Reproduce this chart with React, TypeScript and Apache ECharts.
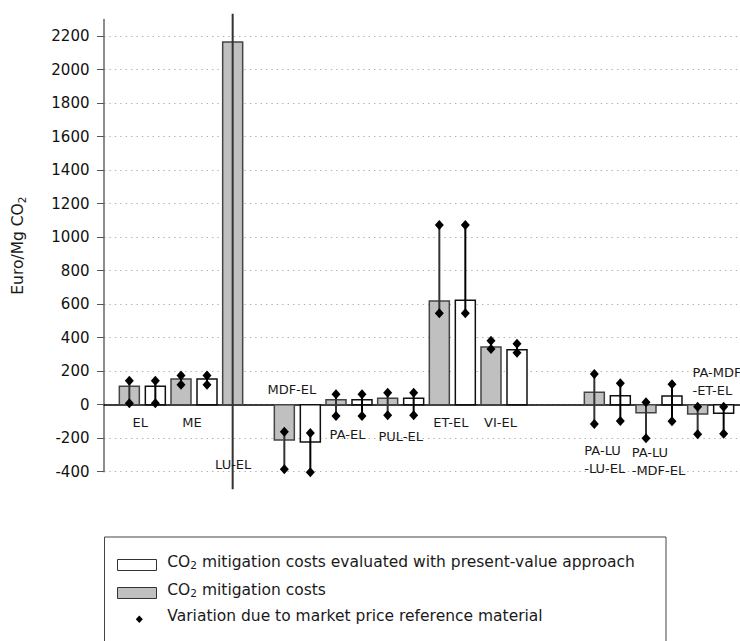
import React, { useEffect, useRef } from "react";
import * as echarts from "echarts";

// ---------- data ----------
const categories = [
  "EL",
  "ME",
  "LU-EL",
  "MDF-EL",
  "PA-EL",
  "PUL-EL",
  "ET-EL",
  "VI-EL",
  "",
  "PA-LU\n-LU-EL",
  "PA-LU\n-MDF-EL",
  "PA-MDF\n-ET-EL",
];
// CO2 mitigation costs (grey bars)
const mitigationCost = [110, 153, 2165, -211, 30, 38, 619, 344, null, 74, -48, -56];
// CO2 mitigation costs, present-value approach (white bars)
const presentValueCost = [110, 153, null, -223, 30, 38, 623, 328, null, 54, 52, -51];
// variation due to market price of reference material
const mitigationLow = [8, 119, -505, -386, -67, -63, 546, 332, null, -115, -201, -177];
const mitigationHigh = [143, 175, 2335, -161, 62, 72, 1073, 382, null, 183, 14, -12];
const presentValueLow = [8, 119, null, -404, -67, -63, 546, 310, null, -97, -99, -173];
const presentValueHigh = [143, 175, null, -169, 62, 72, 1073, 364, null, 128, 122, -12];

const Y_MIN = -400;
const Y_TICK_MAX = 2200;
const Y_AXIS_MAX = 2300;
const Y_INTERVAL = 200;

// ---------- layout ----------
const FONT = "DejaVu Sans";
const X_MIN = -0.742;
const X_MAX = 11.568;
const BAR_FRAC = 20 / 51.67;
const GAP_FRAC = 6 / 51.67;
const labelAnchorY = [-107, -107, -356, 88, -177, -191, -105, -105, 0, -330, -340, 137];
const labelOffsetX = [-2, -2, -12.5, -5.5, -1.5, 0, -1.5, -3.5, 0, -23, -27.3, -18.2];
const labelAlign = [
  "center", "center", "center", "center", "center", "center",
  "center", "center", "center", "left", "left", "left",
];

const GRID_LEFT = 104;
const GRID_BOTTOM = 641 - 471.7;
const GRID_TOP = 19.5;
const PX_PER_UNIT = (471.7 - GRID_TOP) / (Y_AXIS_MAX - Y_MIN);
const GRID2_TOP = GRID_TOP + (Y_AXIS_MAX - Y_TICK_MAX) * PX_PER_UNIT;

function barSeries(name: string, values: (number | null)[], slot: number, fill: string, stroke: string) {
  return {
    type: "custom",
    name,
    xAxisIndex: 0,
    yAxisIndex: 0,
    clip: false,
    z: 2,
    data: values.map((v, i) => [i, v]).filter((d) => d[1] !== null),
    encode: { x: 0, y: 1 },
    renderItem: (params: any, api: any) => {
      const i = api.value(0);
      const v = api.value(1);
      const band = api.size([1, 0])[0];
      const bw = band * BAR_FRAC;
      const gap = band * GAP_FRAC;
      const base = api.coord([i, 0]);
      const top = api.coord([i, v]);
      const x0 = slot < 0 ? base[0] - gap / 2 - bw : base[0] + gap / 2;
      return {
        type: "rect",
        shape: { x: x0, y: Math.min(base[1], top[1]), width: bw, height: Math.abs(base[1] - top[1]) },
        style: { fill, stroke, lineWidth: 1.5 },
      };
    },
  };
}

function errorSeries(name: string, lows: (number | null)[], highs: (number | null)[], slot: number, color: string) {
  const data = lows.map((l, i) => [i, l, highs[i]]).filter((d) => d[1] !== null && d[2] !== null);
  const centerX = (api: any, i: number) => {
    const band = api.size([1, 0])[0];
    const c = api.coord([i, 0])[0];
    const off = (band * GAP_FRAC) / 2 + (band * BAR_FRAC) / 2;
    return slot < 0 ? c - off : c + off;
  };
  const lineSeries = {
    type: "custom",
    name,
    xAxisIndex: 0,
    yAxisIndex: 0,
    clip: false,
    z: 3,
    data,
    encode: { x: 0, y: [1, 2] },
    renderItem: (params: any, api: any) => {
      const i = api.value(0);
      const x = centerX(api, i);
      const y1 = api.coord([i, api.value(1)])[1];
      const y2 = api.coord([i, api.value(2)])[1];
      return {
        type: "line",
        shape: { x1: x, y1, x2: x, y2 },
        style: { stroke: color, lineWidth: 2 },
      };
    },
  };
  const markerSeries = {
    type: "custom",
    name: name + " markers",
    xAxisIndex: 0,
    yAxisIndex: 0,
    clip: false,
    z: 4,
    data,
    encode: { x: 0, y: [1, 2] },
    renderItem: (params: any, api: any) => {
      const i = api.value(0);
      const x = centerX(api, i);
      const children: any[] = [];
      [api.value(1), api.value(2)].forEach((v: number) => {
        // markers beyond the drawn axis range are not visible in the original
        if (v < Y_MIN - 10 || v > Y_AXIS_MAX) return;
        const y = api.coord([i, v])[1];
        children.push({
          type: "polygon",
          shape: { points: [[x, y - 5], [x + 4.5, y], [x, y + 5], [x - 4.5, y]] },
          style: { fill: "#000" },
        });
      });
      return { type: "group", children };
    },
  };
  return [lineSeries, markerSeries];
}

const labelSeries = {
  type: "custom",
  name: "labels",
  xAxisIndex: 0,
  yAxisIndex: 0,
  clip: false,
  z: 5,
  data: categories.map((c, i) => [i, labelAnchorY[i]]).filter((d) => categories[d[0] as number] !== ""),
  encode: { x: 0, y: 1 },
  renderItem: (params: any, api: any) => {
    const i = api.value(0);
    const p = api.coord([i, api.value(1)]);
    const align = labelAlign[i];
    return {
      type: "text",
      x: p[0] + labelOffsetX[i],
      y: p[1],
      style: {
        text: categories[i],
        fill: "#1a1a1a",
        fontSize: 13,
        fontFamily: FONT,
        lineHeight: 18,
        align,
        textAlign: align,
        verticalAlign: "middle",
        textVerticalAlign: "middle",
      },
    };
  },
};

function legendText(text: string, y: number) {
  return {
    type: "text",
    x: 167.3,
    y,
    style: {
      text,
      fill: "#1a1a1a",
      fontSize: 15.5,
      fontFamily: FONT,
      lineHeight: 18,
      align: "left",
      textAlign: "left",
      verticalAlign: "middle",
      textVerticalAlign: "middle",
      rich: {
        sub: { fontSize: 10.5, fontFamily: FONT, lineHeight: 10, verticalAlign: "bottom", fill: "#1a1a1a" },
      },
    },
  };
}

export default function App() {
  const ref = useRef<HTMLDivElement>(null);
  useEffect(() => {
    if (!ref.current) return;
    const chart = echarts.init(ref.current, undefined, { renderer: "svg" });
    const option: any = {
      animation: false,
      backgroundColor: "#ffffff",
      textStyle: { fontFamily: FONT },
      grid: [
        { left: GRID_LEFT, right: 0, top: GRID_TOP, bottom: GRID_BOTTOM, containLabel: false, outerBoundsMode: "none" },
        { left: GRID_LEFT, right: 0, top: GRID2_TOP, bottom: GRID_BOTTOM, containLabel: false, outerBoundsMode: "none" },
      ],
      xAxis: [
        {
          type: "value",
          gridIndex: 0,
          min: X_MIN,
          max: X_MAX,
          axisLine: { show: true, onZero: true, lineStyle: { color: "#000", width: 1.5 } },
          axisTick: { show: false },
          axisLabel: { show: false },
          splitLine: { show: false },
        },
        { type: "value", gridIndex: 1, min: X_MIN, max: X_MAX, show: false },
      ],
      yAxis: [
        {
          type: "value",
          gridIndex: 0,
          min: Y_MIN,
          max: Y_AXIS_MAX,
          name: "Euro/Mg CO{sub|2}",
          nameLocation: "middle",
          nameGap: 77,
          nameTextStyle: {
            fontSize: 15.5,
            color: "#1a1a1a",
            fontFamily: FONT,
            lineHeight: 18,
            rich: { sub: { fontSize: 10.5, lineHeight: 10, verticalAlign: "bottom", fontFamily: FONT, color: "#1a1a1a" } },
          },
          axisLine: { show: true, onZero: false, lineStyle: { color: "#666", width: 1.5 } },
          axisTick: { show: false },
          axisLabel: { show: false },
          splitLine: { show: false },
        },
        {
          type: "value",
          gridIndex: 1,
          min: Y_MIN,
          max: Y_TICK_MAX,
          interval: Y_INTERVAL,
          axisLine: { show: false, onZero: false },
          axisTick: { show: true, length: 7, lineStyle: { color: "#555", width: 1 } },
          axisLabel: {
            fontSize: 15,
            color: "#111",
            margin: 14.5,
            fontFamily: FONT,
            formatter: (v: number) => String(v),
          },
          splitLine: { show: true, lineStyle: { type: [1.4, 4], color: "#b0b0b0", width: 1 } },
        },
      ],
      graphic: [
        {
          type: "rect",
          shape: { x: 104.5, y: 537, width: 561.5, height: 130 },
          style: { fill: "#fff", stroke: "#444", lineWidth: 1 },
        },
        {
          type: "rect",
          shape: { x: 117.5, y: 559.5, width: 39, height: 11 },
          style: { fill: "#fff", stroke: "#333", lineWidth: 1 },
        },
        legendText("CO{sub|2} mitigation costs evaluated with present-value approach", 561.7),
        {
          type: "rect",
          shape: { x: 117.5, y: 587.5, width: 39, height: 11 },
          style: { fill: "#c0c0c0", stroke: "#333", lineWidth: 1 },
        },
        legendText("CO{sub|2} mitigation costs", 589.7),
        {
          type: "polygon",
          shape: { points: [[139.3, 615.5], [142.8, 619.3], [139.3, 623.1], [135.8, 619.3]] },
          style: { fill: "#000" },
        },
        legendText("Variation due to market price reference material", 615.7),
      ],
      series: [
        barSeries("CO2 mitigation costs", mitigationCost, -1, "#c0c0c0", "#444"),
        barSeries("CO2 mitigation costs evaluated with present-value approach", presentValueCost, 1, "#ffffff", "#111"),
        ...errorSeries("Variation (mitigation costs)", mitigationLow, mitigationHigh, -1, "#333"),
        ...errorSeries("Variation (present-value)", presentValueLow, presentValueHigh, 1, "#000"),
        labelSeries,
      ],
    };
    chart.setOption(option);
    return () => chart.dispose();
  }, []);
  return (
    <div
      ref={ref}
      style={{ position: "absolute", left: 0, top: 0, width: 740, height: 641, background: "#fff" }}
    />
  );
}
